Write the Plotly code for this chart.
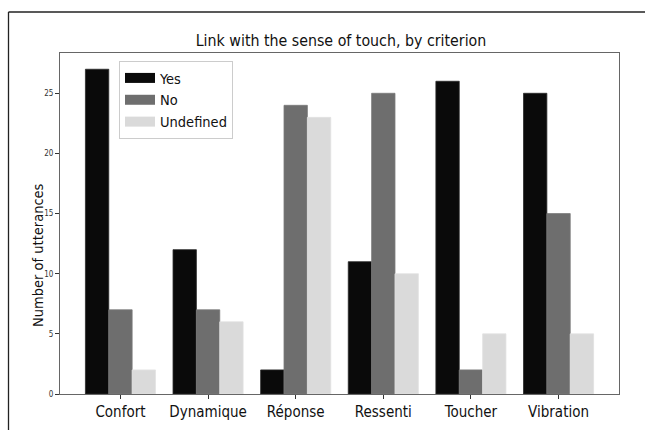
import plotly.graph_objects as go

categories = ["Confort", "Dynamique", "Réponse", "Ressenti", "Toucher", "Vibration"]
yes_vals = [27, 12, 2, 11, 26, 25]
no_vals = [7, 7, 24, 25, 2, 15]
undef_vals = [2, 6, 23, 10, 5, 5]
series_names = ["Yes", "No", "Undefined"]
series_colors = ["#0a0a0a", "#6e6e6e", "#dadada"]
edge_colors = ["#2a2a2a", "#7a7a7a", "#e2e2e2"]
y_ticks = [0, 5, 10, 15, 20, 25]

FONT = "DejaVu Sans Condensed, DejaVu Sans"
fig = go.Figure()
x_idx = list(range(len(categories)))
for name, vals, col, ec in zip(series_names, [yes_vals, no_vals, undef_vals], series_colors, edge_colors):
    fig.add_trace(go.Bar(x=x_idx, y=vals, name=name, showlegend=False,
                         marker=dict(color=col, line=dict(color=ec, width=0.8))))
# legend entries drawn as wide patches (like matplotlib's legend handles)
for name, col in zip(series_names, series_colors):
    fig.add_trace(go.Scatter(x=[None], y=[None], mode="lines", name=name,
                             line=dict(color=col, width=10), showlegend=True, hoverinfo="skip"))

W, H = 645, 430
L, R, T, B = 60, 619, 53, 394
pw, ph = R - L, B - T

def px(x):
    return (x - L) / pw

def py(y):
    return (B - y) / ph

fig.update_layout(
    width=W, height=H,
    margin=dict(l=L, r=W - R, t=T, b=H - B, autoexpand=False),
    paper_bgcolor="white", plot_bgcolor="white",
    font=dict(family=FONT, color="#111"),
    barmode="group", bargap=0.2, bargroupgap=0,
    title=dict(text="Link with the sense of touch, by criterion", x=px(341), xref="paper", xanchor="center",
               y=1 - 40 / H, yanchor="middle", font=dict(size=15.8, color="#111")),
    showlegend=True,
    legend=dict(x=px(119), y=py(61), xanchor="left", yanchor="top", bgcolor="white",
                bordercolor="#cccccc", borderwidth=1, font=dict(size=14.5, color="#111"),
                itemwidth=30),
    xaxis=dict(range=[-0.69, 5.69], tickmode="array", tickvals=x_idx, ticktext=categories,
               automargin=False,
               showgrid=False, zeroline=False, showline=True, linecolor="#666", linewidth=1, mirror=True,
               ticks="outside", ticklen=4, tickcolor="#333", tickfont=dict(size=15, color="#111")),
    yaxis=dict(range=[0, 28.35], tickvals=y_ticks, showgrid=False, zeroline=False, showline=True,
               automargin=False,
               linecolor="#666", linewidth=1, mirror=True, ticks="outside", ticklen=4, tickcolor="#333",
               tickfont=dict(size=8, color="#333")),
    annotations=[dict(text="Number of utterances", textangle=-90, xref="paper", yref="paper",
                      x=px(38), y=py(255), xanchor="center", yanchor="middle", showarrow=False,
                      font=dict(size=14.5, color="#111"))],
    shapes=[
        dict(type="line", xref="paper", yref="paper", x0=px(8.5), x1=px(660), y0=py(12), y1=py(12),
             line=dict(color="#222", width=1.3)),
        dict(type="line", xref="paper", yref="paper", x0=px(8.5), x1=px(8.5), y0=py(12), y1=py(440),
             line=dict(color="#222", width=1.3)),
    ],
)

fig.write_html("out.html", config={"displayModeBar": False},
               post_script="document.body.style.margin='0';document.body.style.overflow='hidden';")
